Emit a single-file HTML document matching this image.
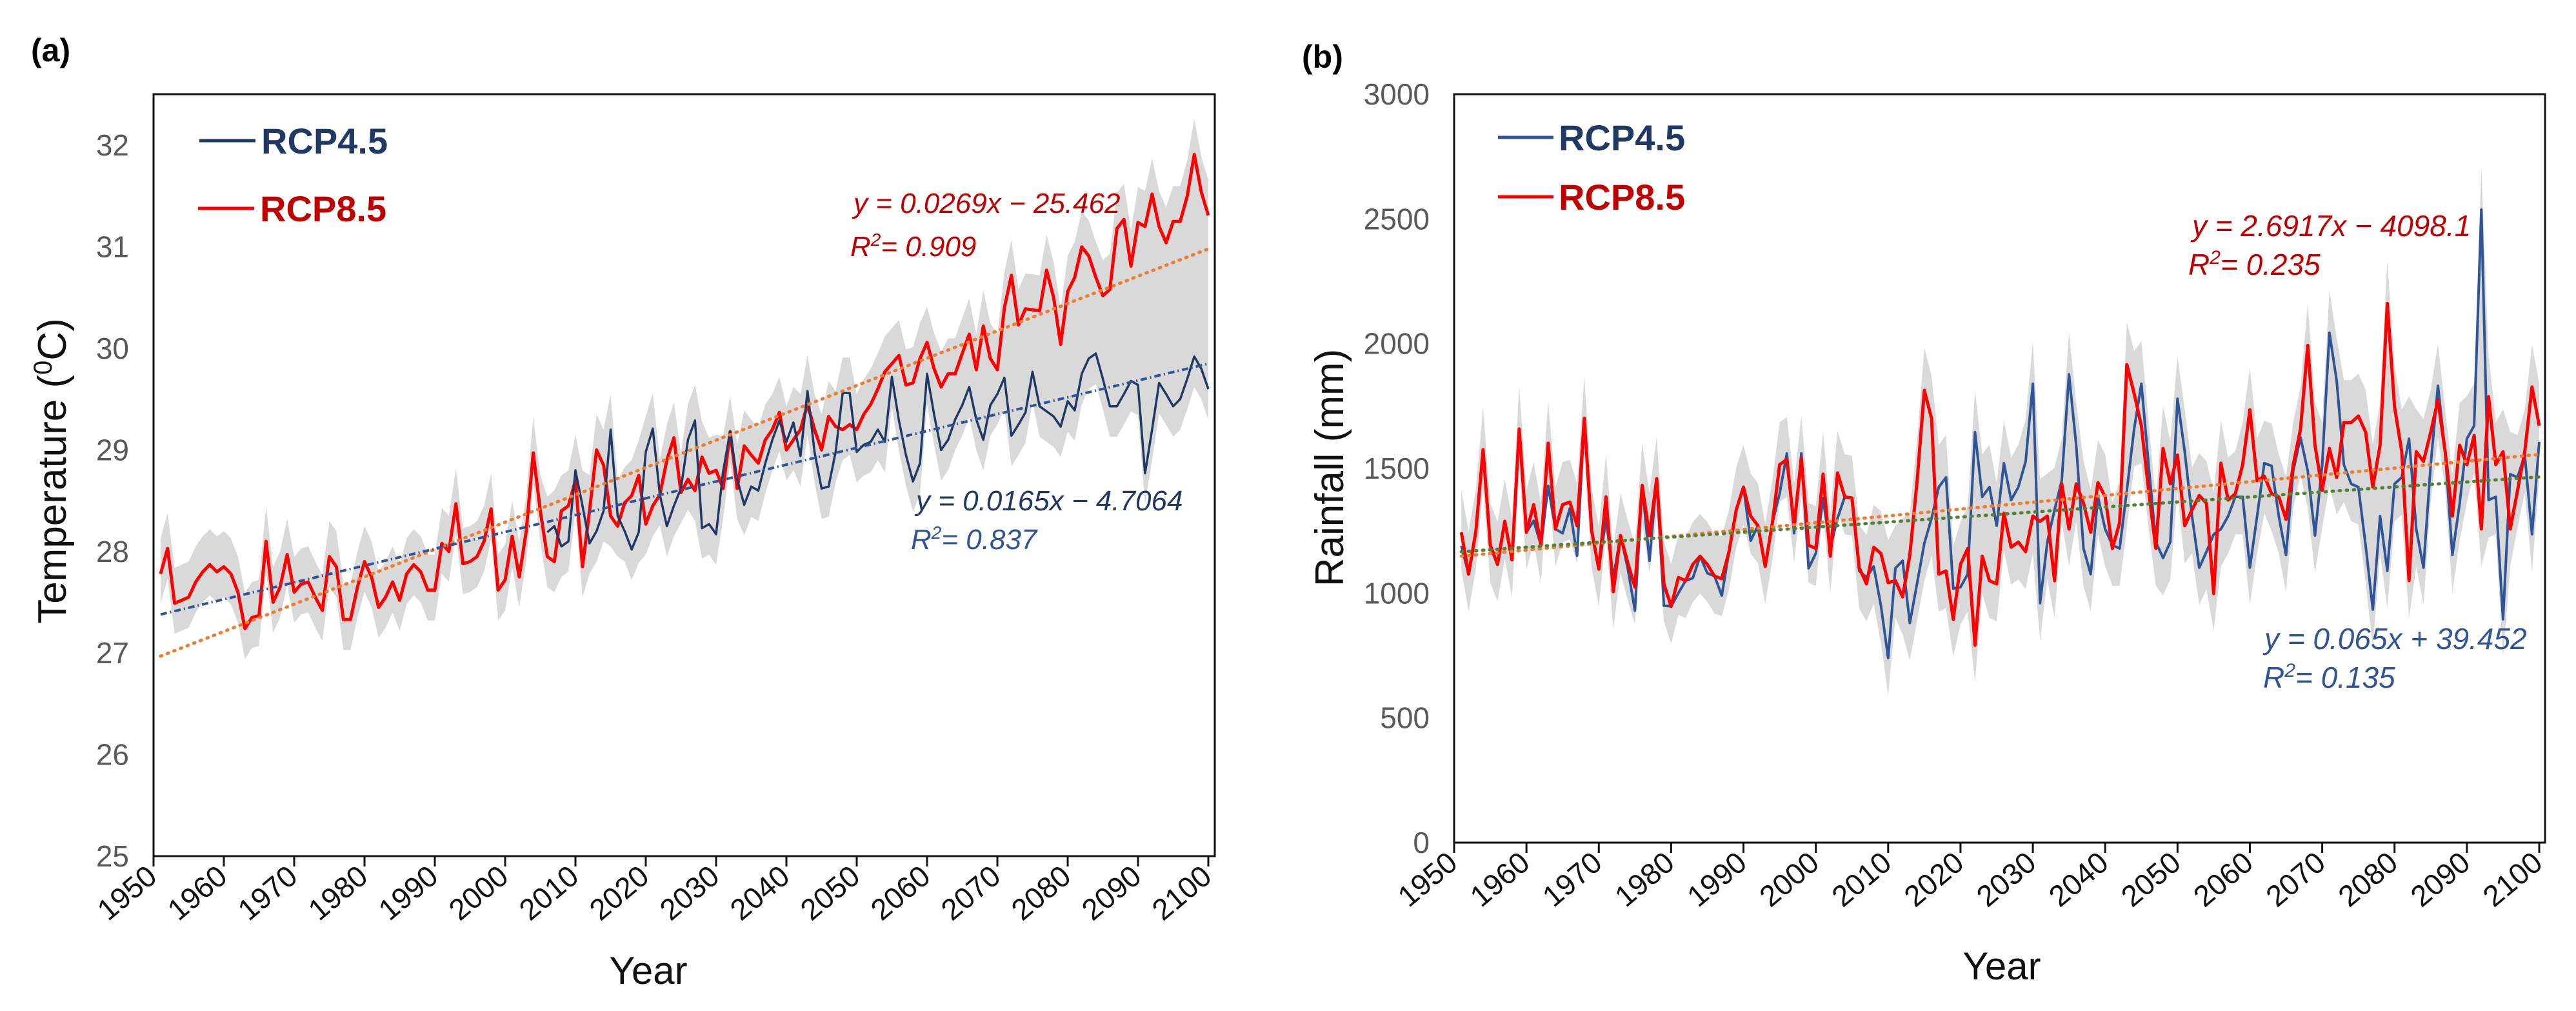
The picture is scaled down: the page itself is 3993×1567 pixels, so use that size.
<!DOCTYPE html>
<html><head><meta charset="utf-8"><style>
html,body{margin:0;padding:0;background:#fff}
svg{display:block}
text{font-family:"Liberation Sans",Arial,sans-serif}
</style></head><body>
<svg id="c" width="3993" height="1567" viewBox="0 0 3993 1567" xmlns="http://www.w3.org/2000/svg"></svg>
<script>
// ---------- DATA ----------
const years = []; for (let y = 1951; y <= 2100; y++) years.push(y);
const tempRcp85 = [27.78,28.03,27.49,27.52,27.55,27.7,27.8,27.87,27.8,27.85,
27.78,27.6,27.24,27.35,27.37,28.1,27.5,27.65,27.97,27.6,
27.68,27.7,27.55,27.42,27.95,27.85,27.33,27.33,27.65,27.9,
27.75,27.45,27.55,27.7,27.52,27.78,27.87,27.8,27.62,27.62,
28.08,28.0,28.47,27.88,27.9,27.95,28.1,28.42,27.62,27.72,
28.15,27.75,28.2,28.97,28.4,
27.95,27.9,28.4,28.45,28.7,27.85,28.4,29.0,28.85,28.35,
28.25,28.48,28.55,28.75,28.27,28.45,28.56,28.9,29.12,28.58,
28.71,28.6,28.93,28.77,28.8,28.62,29.18,28.62,29.04,28.95,
28.87,29.1,29.2,29.37,29.0,29.1,29.2,29.45,29.2,29.0,
29.33,29.23,29.2,29.25,29.2,29.35,29.45,29.6,29.77,29.85,
29.93,29.64,29.66,29.9,30.06,29.8,29.62,29.75,29.75,29.95,
30.14,29.79,30.22,29.9,29.79,30.4,30.72,30.23,30.39,30.38,
30.37,30.77,30.5,30.04,30.56,30.7,31.0,30.91,30.7,30.52,
30.58,31.18,31.27,30.81,31.24,31.2,31.52,31.2,31.04,31.25,
31.25,31.5,31.91,31.54,31.31];
const tempRcp45Years = []; for (let y = 2006; y <= 2100; y++) tempRcp45Years.push(y);
const tempRcp45 = [28.19,28.25,28.05,28.1,28.8,28.45,28.08,28.2,28.4,29.2,
28.35,28.2,28.02,28.19,28.98,29.21,28.56,28.25,28.45,28.62,
29.1,29.29,28.23,28.27,28.17,28.79,29.18,28.71,28.46,28.64,
28.6,28.87,29.1,29.29,29.08,29.27,28.94,29.58,28.98,28.62,
28.64,28.98,29.56,29.56,28.98,29.05,29.08,29.2,29.08,29.72,
29.29,28.95,28.69,28.87,29.75,29.35,29.0,29.1,29.3,29.44,
29.62,29.3,29.1,29.44,29.55,29.71,29.14,29.25,29.37,29.77,
29.43,29.38,29.33,29.23,29.48,29.39,29.75,29.9,29.95,29.7,
29.43,29.43,29.55,29.68,29.64,28.77,29.2,29.66,29.55,29.43,
29.5,29.7,29.92,29.8,29.6];
const tempTrend85 = [26.97, 30.98];
const tempTrend45 = [27.38, 29.85];
const rainRcp85 = [1244,1076,1245,1575,1192,1115,1288,1133,1658,1244,
1355,1192,1601,1257,1355,1365,1270,1701,1252,1096,
1386,1006,1231,1122,1024,1432,1231,1459,1037,947,
1063,1050,1115,1148,1115,1068,1058,1166,1334,1425,
1309,1270,1107,1283,1515,1536,1270,1541,1192,1179,
1477,1148,1482,1386,1381,
1102,1037,1184,1159,1042,1050,985,1153,1450,1813,
1700,1076,1089,895,1115,1179,791,1148,1050,1037,
1321,1184,1205,1166,1309,1288,1309,1050,1438,1257,
1438,1360,1244,1443,1386,1179,1283,1916,1800,1671,
1412,1179,1580,1438,1554,1270,1334,1391,1360,998,
1521,1373,1399,1515,1735,1451,1469,1399,1386,1296,
1515,1658,1993,1593,1412,1580,1464,1684,1684,1710,
1645,1425,1593,2161,1748,1567,1050,1567,1528,1645,
1774,1567,1309,1593,1515,1632,1257,1787,1515,1567,
1257,1412,1567,1826,1671];
const rainRcp45 = [1190,1076,1245,1575,1192,1115,1288,1133,1658,1244,
1290,1192,1430,1257,1240,1340,1150,1701,1252,1096,
1300,1060,1231,1100,930,1432,1130,1459,950,947,
1000,1050,1060,1148,1080,1068,990,1166,1334,1425,
1210,1270,1107,1283,1400,1560,1240,1560,1100,1160,
1380,1180,1300,1386,1381,
1089,1063,1107,950,740,1100,1130,880,1040,1200,
1300,1425,1464,1019,1024,1076,1645,1386,1425,1270,
1521,1373,1425,1528,1839,960,1205,1334,1451,1877,
1593,1179,1076,1386,1257,1192,1179,1412,1658,1839,
1515,1205,1141,1205,1779,1567,1309,1102,1166,1236,
1257,1309,1386,1386,1102,1309,1521,1510,1309,1153,
1490,1624,1490,1231,1515,2044,1852,1515,1438,1425,
1192,934,1309,1089,1438,1464,1619,1257,1102,1515,
1831,1567,1153,1360,1619,1671,2537,1373,1386,895,
1477,1464,1554,1236,1606];
const rainTrend85 = [1148, 1556];
const rainTrend45 = [1166, 1466];
const tempTicks = [25,26,27,28,29,30,31,32];
const rainTicks = [0,500,1000,1500,2000,2500,3000];
const yearTicks = [1950,1960,1970,1980,1990,2000,2010,2020,2030,2040,2050,2060,2070,2080,2090,2100];

// ---------- HELPERS ----------
const NS = "http://www.w3.org/2000/svg";
const svg = document.getElementById('c');
function mk(tag, attrs, parent) {
  const e = document.createElementNS(NS, tag);
  for (const k in attrs) e.setAttribute(k, attrs[k]);
  (parent || svg).appendChild(e);
  return e;
}
function txt(str, attrs, parent) { const t = mk('text', attrs, parent); t.textContent = str; return t; }

const PA = {L:238, R:1883, T:146, B:1327, x0:238, x1:1873, vmin:25, vmax:32, y0:1327, y1:225.2};
const PB = {L:2254, R:3945, T:146, B:1306, x0:2254, x1:3936, vmin:0, vmax:3000, y0:1306, y1:146};
function sx(P, yr) { return P.x0 + (yr - 1950) * (P.x1 - P.x0) / 150; }
function sy(P, v) { return P.y0 + (v - P.vmin) * (P.y1 - P.y0) / (P.vmax - P.vmin); }
function pts(P, yrs, vals) { return yrs.map((y, i) => sx(P, y).toFixed(1) + ',' + sy(P, vals[i]).toFixed(1)).join(' '); }

function rainOrTemp(P) {
  if (P === PA) return [tempRcp85, tempRcp45];
  return [rainRcp85, rainRcp45.slice(55)];
}
function band(P, g, lo, hi, name) {
  let up = [], dn = [];
  const s = rainOrTemp(P);
  years.forEach((y, i) => {
    const r = s[0][i];
    const j = y - 2006;
    const b = (j >= 0) ? s[1][j] : null;
    let mx = r, mn = r;
    if (b !== null) { mx = Math.max(r, b); mn = Math.min(r, b); }
    up.push(sx(P, y).toFixed(1) + ',' + sy(P, mx + hi).toFixed(1));
    dn.unshift(sx(P, y).toFixed(1) + ',' + sy(P, mn - lo).toFixed(1));
  });
  const p = mk('polygon', {points: up.concat(dn).join(' '), fill: '#d9d9d9', stroke: 'none'}, g);
  
  
}

function axes(P, g, ticks, tickName) {
  const f = mk('rect', {x: P.L, y: P.T, width: P.R - P.L, height: P.B - P.T, fill: 'none', stroke: '#111', 'stroke-width': 3}, g);
  
  
  yearTicks.forEach(yr => {
    const x = sx(P, yr);
    const t = mk('line', {x1: x, x2: x, y1: P.B, y2: P.B + 16, stroke: '#111', 'stroke-width': 3}, g);
    
    
    const lb = txt(String(yr), {x: x + 8, y: P.B + 36, 'font-size': 46, fill: '#111', 'text-anchor': 'end',
      transform: 'rotate(-40 ' + (x + 8) + ' ' + (P.B + 36) + ')'}, g);
    
    
  });
  ticks.forEach(v => {
    const lb = txt(String(v), {x: P.L - 38, y: sy(P, v) + 16, 'font-size': 46, fill: '#595959', 'text-anchor': 'end'}, g);
    
    
  });
}

// ---------- PANEL A ----------
const ga = mk('g', {});  
band(PA, ga, 0.3, 0.35, 'temperature-range-band');
let l = mk('polyline', {points: pts(PA, years, tempRcp85), fill: 'none', stroke: '#ff0000', 'stroke-width': 5, 'stroke-linejoin': 'round'}, ga);
 
l = mk('polyline', {points: pts(PA, tempRcp45Years, tempRcp45), fill: 'none', stroke: '#1f3864', 'stroke-width': 3.5, 'stroke-linejoin': 'round'}, ga);
 
l = mk('line', {x1: sx(PA, 1951), y1: sy(PA, tempTrend85[0]), x2: sx(PA, 2100), y2: sy(PA, tempTrend85[1]), stroke: '#ed7d31', 'stroke-width': 5, 'stroke-dasharray': '2 9', 'stroke-linecap': 'round'}, ga);
 
l = mk('line', {x1: sx(PA, 1951), y1: sy(PA, tempTrend45[0]), x2: sx(PA, 2100), y2: sy(PA, tempTrend45[1]), stroke: '#2f5597', 'stroke-width': 4, 'stroke-dasharray': '10 5 2 5'}, ga);
 
axes(PA, ga, tempTicks, 'y-tick-label');

// ---------- PANEL B ----------
const gb = mk('g', {});  
band(PB, gb, 150, 170, 'rainfall-range-band');
l = mk('polyline', {points: pts(PB, years, rainRcp45), fill: 'none', stroke: '#2f5597', 'stroke-width': 4, 'stroke-linejoin': 'round'}, gb);
 
l = mk('polyline', {points: pts(PB, years, rainRcp85), fill: 'none', stroke: '#ff0000', 'stroke-width': 5, 'stroke-linejoin': 'round'}, gb);
 
l = mk('line', {x1: sx(PB, 1951), y1: sy(PB, rainTrend85[0]), x2: sx(PB, 2100), y2: sy(PB, rainTrend85[1]), stroke: '#ed7d31', 'stroke-width': 5, 'stroke-dasharray': '2 9', 'stroke-linecap': 'round'}, gb);
 
l = mk('line', {x1: sx(PB, 1951), y1: sy(PB, rainTrend45[0]), x2: sx(PB, 2100), y2: sy(PB, rainTrend45[1]), stroke: '#548235', 'stroke-width': 5, 'stroke-dasharray': '2 9', 'stroke-linecap': 'round'}, gb);
 
axes(PB, gb, rainTicks, 'y-tick-label');
</script>

<svg width="3993" height="1567" style="position:absolute;left:0;top:0" xmlns="http://www.w3.org/2000/svg">
  <text x="48" y="95" font-size="50" font-weight="bold" font-family="Liberation Sans, sans-serif">(a)</text>
  <text x="2018" y="105" font-size="50" font-weight="bold" font-family="Liberation Sans, sans-serif">(b)</text>

  <line x1="309" y1="218" x2="396" y2="218" stroke="#1f3864" stroke-width="5"/>
  <text x="405" y="238" font-size="56" font-weight="bold" fill="#1f3864" font-family="Liberation Sans, sans-serif">RCP4.5</text>
  <line x1="307" y1="323" x2="394" y2="323" stroke="#ff0000" stroke-width="5"/>
  <text x="403" y="343" font-size="56" font-weight="bold" fill="#c00000" font-family="Liberation Sans, sans-serif">RCP8.5</text>

  <line x1="2322" y1="213" x2="2408" y2="213" stroke="#2f5597" stroke-width="5"/>
  <text x="2416" y="233" font-size="56" font-weight="bold" fill="#1f3864" font-family="Liberation Sans, sans-serif">RCP4.5</text>
  <line x1="2322" y1="305" x2="2408" y2="305" stroke="#ff0000" stroke-width="5"/>
  <text x="2416" y="325" font-size="56" font-weight="bold" fill="#c00000" font-family="Liberation Sans, sans-serif">RCP8.5</text>

  <g font-family="Liberation Sans, sans-serif" font-style="italic">
    <text x="1323" y="330" font-size="44" fill="#c00000">y = 0.0269x − 25.462</text>
    <text x="1318" y="397" font-size="44" fill="#c00000">R<tspan font-size="28" dy="-16">2</tspan><tspan dy="16">= 0.909</tspan></text>
    <text x="1420" y="791" font-size="44" fill="#1f3864">y = 0.0165x − 4.7064</text>
    <text x="1412" y="851" font-size="44" fill="#2f5597">R<tspan font-size="28" dy="-16">2</tspan><tspan dy="16">= 0.837</tspan></text>
    <text x="3398" y="366" font-size="46" fill="#c00000">y = 2.6917x − 4098.1</text>
    <text x="3392" y="426" font-size="46" fill="#c00000">R<tspan font-size="30" dy="-17">2</tspan><tspan dy="17">= 0.235</tspan></text>
    <text x="3510" y="1006" font-size="46" fill="#2f5597">y = 0.065x + 39.452</text>
    <text x="3508" y="1066" font-size="46" fill="#2f5597">R<tspan font-size="30" dy="-17">2</tspan><tspan dy="17">= 0.135</tspan></text>
  </g>

  <text x="0" y="0" font-size="62" fill="#111" text-anchor="middle" transform="translate(102 730) rotate(-90)" font-family="Liberation Sans, sans-serif">Temperature (<tspan font-size="40" dy="-22">0</tspan><tspan dy="22">C)</tspan></text>
  <text x="0" y="0" font-size="62" fill="#111" text-anchor="middle" transform="translate(2082 725) rotate(-90)" font-family="Liberation Sans, sans-serif">Rainfall (mm)</text>
  <text x="1005" y="1525" font-size="60" fill="#111" text-anchor="middle" font-family="Liberation Sans, sans-serif">Year</text>
  <text x="3103" y="1518" font-size="60" fill="#111" text-anchor="middle" font-family="Liberation Sans, sans-serif">Year</text>
</svg>
</body></html>
